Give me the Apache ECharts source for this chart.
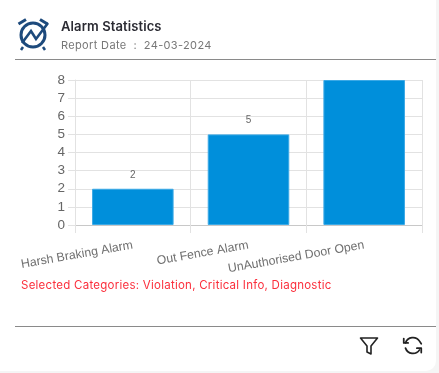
<!DOCTYPE html>
<html>
<head>
<meta charset="utf-8">
<title>Alarm Statistics</title>
<script src="https://cdn.jsdelivr.net/npm/echarts@6/dist/echarts.min.js"></script>
<style>
  html, body { margin: 0; padding: 0; background: #f5f5f5; }
  #card { position: absolute; left: 0; top: 0; width: 436px; height: 371px; background: #fff; border-radius: 0 0 10px 0; overflow: hidden; }
  #chart { position: absolute; left: 0; top: 0; width: 439px; height: 373px; }
  .title { position: absolute; left: 61px; top: 18px; font: 600 13px Inter, sans-serif; color: #2b2b33; letter-spacing: 0.1px; }
  .date { position: absolute; left: 61px; top: 38px; font: 11px Inter, sans-serif; color: #777; letter-spacing: 0.35px; white-space: pre; }
  .rule { position: absolute; left: 15px; width: 421px; height: 1px; background: #8a8a8a; }
  .selected { position: absolute; left: 21px; top: 278px; font: 11.5px Inter, sans-serif; color: #fb2f3c; letter-spacing: 0.25px; white-space: nowrap; }
  svg { position: absolute; }
</style>
</head>
<body>
<div id="card">
  <div id="chart"></div>
  <svg style="left:17px;top:17px" width="33" height="35" viewBox="0 0 33 35" fill="none" stroke="#1d4a7c">
    <circle cx="16" cy="18" r="12" stroke-width="3"/>
    <path d="M1.5 7 L9 2.5 M30.5 7 L23 2.5" stroke-width="3"/>
    <path d="M6 30 L4 33 M26 30 L28 33" stroke-width="2.5"/>
    <path d="M5 26 L14 14 L19 22 L31 6" stroke-width="2.6"/>
  </svg>
  <div class="title">Alarm Statistics</div>
  <div class="date">Report Date  :  24-03-2024</div>
  <div class="rule" style="top:59px"></div>
  <div class="selected">Selected Categories: Violation, Critical Info, Diagnostic</div>
  <div class="rule" style="top:326px"></div>
  <svg style="left:359px;top:336px" width="20" height="20" viewBox="0 0 20 20" fill="none" stroke="#222" stroke-width="1.6" stroke-linejoin="round">
    <path d="M1.5 2 H18.5 L12 10 V18 L8 16 V10 Z"/>
  </svg>
  <svg style="left:402px;top:335px" width="21" height="21" viewBox="0 0 24 24" fill="none" stroke="#222" stroke-width="2" stroke-linecap="round" stroke-linejoin="round">
    <path d="M4 9 A9 9 0 0 1 20 7 L22 10 M4 15 A9 9 0 0 0 20 17"/>
    <path d="M2 4 V9 H7 M17 15 H22 V20"/>
  </svg>
</div>
<script>
var categories = ['Harsh Braking Alarm', 'Out Fence Alarm', 'UnAuthorised Door Open'];
var alarmCounts = [2, 5, 8];
var axisMax = 8;

var chart = echarts.init(document.getElementById('chart'), null, { renderer: 'canvas' });
chart.setOption({
    animation: false,
    backgroundColor: 'transparent',
    grid: { left: 75, right: 17, top: 80, bottom: 148 },
    xAxis: {
        type: 'category',
        data: categories,
        axisLine: { lineStyle: { color: '#c8c8c8' } },
        axisTick: { show: true, length: 8, lineStyle: { color: '#e2e2e2' } },
        splitLine: { show: true, lineStyle: { color: '#e2e2e2' } },
        axisLabel: {
            rotate: 10,
            interval: 0,
            margin: 20,
            color: '#707070',
            fontFamily: 'Liberation Sans',
            fontSize: 12.3
        }
    },
    yAxis: {
        type: 'value',
        min: 0,
        max: axisMax,
        interval: 1,
        axisLine: { show: true, lineStyle: { color: '#e2e2e2' } },
        axisTick: { show: true, length: 7, lineStyle: { color: '#e2e2e2' } },
        splitLine: { lineStyle: { color: '#e2e2e2' } },
        axisLabel: {
            margin: 10,
            color: '#666',
            fontFamily: 'Liberation Sans',
            fontSize: 13.5
        }
    },
    series: [{
        type: 'bar',
        data: alarmCounts,
        barWidth: '70.5%',
        itemStyle: { color: '#008fdb', borderColor: '#3ba9e6', borderWidth: 1 },
        label: {
            show: true,
            position: 'top',
            distance: 9,
            color: '#666',
            fontFamily: 'Liberation Sans',
            fontSize: 10,
            // the label of a bar that reaches the top of the axis is not shown
            formatter: function (p) { return p.value >= axisMax ? '' : p.value; }
        }
    }]
});
</script>
</body>
</html>
